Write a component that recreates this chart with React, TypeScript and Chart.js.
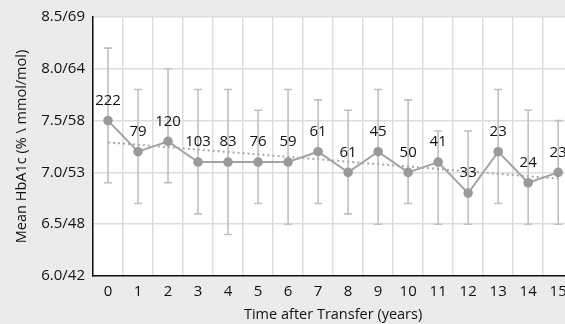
import { useEffect, useRef } from "react";
import { Chart, registerables } from "chart.js";

Chart.register(...registerables);

const years = ["0", "1", "2", "3", "4", "5", "6", "7", "8", "9", "10", "11", "12", "13", "14", "15"];
const meanHbA1c = [7.5, 7.2, 7.3, 7.1, 7.1, 7.1, 7.1, 7.2, 7.0, 7.2, 7.0, 7.1, 6.8, 7.2, 6.9, 7.0];
const upperSD = [8.2, 7.8, 8.0, 7.8, 7.8, 7.6, 7.8, 7.7, 7.6, 7.8, 7.7, 7.4, 7.4, 7.8, 7.6, 7.5];
const lowerSD = [6.9, 6.7, 6.9, 6.6, 6.4, 6.7, 6.5, 6.7, 6.6, 6.5, 6.7, 6.5, 6.5, 6.7, 6.5, 6.5];
const patientCounts = [222, 79, 120, 103, 83, 76, 59, 61, 61, 45, 50, 41, 33, 23, 24, 23];
const trendLine: (number | null)[] = [7.29, null, null, null, null, null, null, null, null, null, null, null, null, null, null, 6.94];
const yTickValues = [6.0, 6.5, 7.0, 7.5, 8.0, 8.5];
const yTickLabels = ["6.0/42", "6.5/48", "7.0/53", "7.5/58", "8.0/64", "8.5/69"];

const FONT = "'Open Sans', 'Noto Sans', sans-serif";

const plotBg = {
  id: "plotBg",
  beforeDraw(chart: any) {
    const { ctx, chartArea } = chart;
    ctx.save();
    ctx.fillStyle = "#ffffff";
    ctx.fillRect(chartArea.left, chartArea.top, chartArea.right - chartArea.left, chartArea.bottom - chartArea.top);
    ctx.restore();
  },
};

const errorBars = {
  id: "errorBars",
  beforeDatasetsDraw(chart: any) {
    const { ctx } = chart;
    const xs = chart.scales.x;
    const ys = chart.scales.y;
    ctx.save();
    ctx.strokeStyle = "#c0c0c0";
    ctx.lineWidth = 1.6;
    upperSD.forEach((u, i) => {
      const x = xs.getPixelForValue(i);
      const yu = ys.getPixelForValue(u);
      const yl = ys.getPixelForValue(lowerSD[i]);
      ctx.beginPath();
      ctx.moveTo(x, yu);
      ctx.lineTo(x, yl);
      ctx.moveTo(x - 4, yu);
      ctx.lineTo(x + 4, yu);
      ctx.moveTo(x - 4, yl);
      ctx.lineTo(x + 4, yl);
      ctx.stroke();
    });
    ctx.restore();
  },
};

const countLabels = {
  id: "countLabels",
  afterDatasetsDraw(chart: any) {
    const { ctx } = chart;
    const xs = chart.scales.x;
    const ys = chart.scales.y;
    ctx.save();
    ctx.fillStyle = "#111111";
    ctx.font = `15px ${FONT}`;
    ctx.textAlign = "center";
    ctx.textBaseline = "middle";
    patientCounts.forEach((n, i) => {
      const x = xs.getPixelForValue(i);
      const y = ys.getPixelForValue(meanHbA1c[i]) - 20;
      ctx.fillText(String(n), x, y);
    });
    ctx.restore();
  },
};

export default function App() {
  const ref = useRef<HTMLCanvasElement | null>(null);
  useEffect(() => {
    if (!ref.current) return;
    const chart = new Chart(ref.current, {
      type: "line",
      data: {
        labels: years,
        datasets: [
          {
            label: "Mean HbA1c",
            data: meanHbA1c,
            borderColor: "#a3a3a3",
            backgroundColor: "#9a9a9a",
            borderWidth: 2,
            pointRadius: 4.8,
            pointBorderWidth: 0,
            pointBackgroundColor: "#9a9a9a",
            tension: 0,
            order: 1,
          },
          {
            label: "Trend",
            data: trendLine,
            borderColor: "#a8a8a8",
            borderWidth: 2,
            borderDash: [2, 3],
            pointRadius: 0,
            spanGaps: true,
            order: 0,
          },
        ],
      },
      options: {
        responsive: false,
        animation: false,
        layout: { padding: { top: 15, right: 0, left: 0, bottom: 0 } },
        plugins: { legend: { display: false }, tooltip: { enabled: false } },
        scales: {
          x: {
            type: "category",
            offset: true,
            grid: { offset: true, color: "#dddddd", lineWidth: 1.5, drawTicks: false },
            border: { color: "#111111", width: 1.5 },
            ticks: { color: "#111111", font: { family: FONT, size: 15 }, padding: 7, maxRotation: 0 },
            title: { display: true, text: "Time after Transfer (years)", color: "#111111", font: { family: FONT, size: 14.5 }, padding: { top: 0, bottom: 0 } },
            afterFit: (s: any) => {
              s.height = 48;
            },
          },
          y: {
            min: 6.0,
            max: 8.5,
            afterBuildTicks: (s: any) => {
              s.ticks = yTickValues.map((v) => ({ value: v }));
            },
            grid: { color: "#dddddd", lineWidth: 1.5, drawTicks: false },
            border: { color: "#111111", width: 1.5 },
            ticks: {
              color: "#111111",
              font: { family: FONT, size: 15 },
              padding: 8,
              callback: (v: any) => {
                const i = yTickValues.findIndex((t) => Math.abs(t - Number(v)) < 1e-6);
                return i >= 0 ? yTickLabels[i] : "";
              },
            },
            title: { display: true, text: "Mean HbA1c (% \\ mmol/mol)", color: "#111111", font: { family: FONT, size: 14.5 }, padding: { top: 13, bottom: 0 } },
            afterFit: (s: any) => {
              s.width = 93;
            },
          },
        },
      },
      plugins: [plotBg, errorBars, countLabels],
    });
    return () => chart.destroy();
  }, []);
  return (
    <div style={{ position: "fixed", left: 0, top: 0, width: 565, height: 324, overflow: "hidden", background: "#ebebeb" }}>
      <canvas ref={ref} width={578} height={324} style={{ display: "block" }} />
    </div>
  );
}
